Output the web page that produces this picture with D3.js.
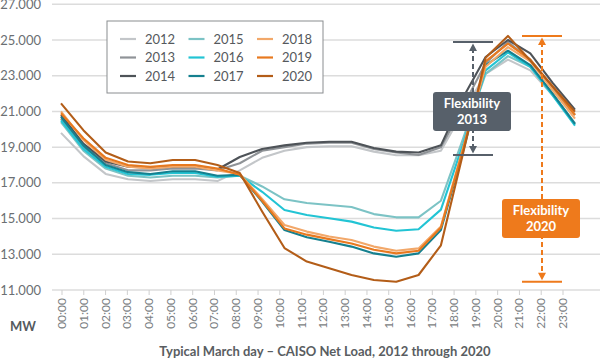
<!DOCTYPE html>
<html lang="en">
<head>
  <meta charset="UTF-8">
  <title>Typical March day - CAISO Net Load</title>
  <script src="https://d3js.org/d3.v7.min.js"></script>
  <style>
    body { margin: 0; padding: 0; background: #fff; }
    svg { font-family: Lato, "Open Sans", sans-serif; display: block; }
    .tick-label { font-size: 13px; fill: #6b6f73; }
    .hour-label { font-size: 12px; fill: #7a7e82; }
    .legend-text { font-size: 13px; fill: #55595d; }
    .box-text { font-size: 13px; font-weight: bold; fill: #fff; text-anchor: middle; }
  </style>
</head>
<body>
  <div id="chart"></div>
  <script>
    const hours = ["00:00","01:00","02:00","03:00","04:00","05:00","06:00","07:00","08:00","09:00","10:00","11:00",
                   "12:00","13:00","14:00","15:00","16:00","17:00","18:00","19:00","20:00","21:00","22:00","23:00"];
    const yTicks = [11000, 13000, 15000, 17000, 19000, 21000, 23000, 25000, 27000];
    const years = ["2012","2013","2014","2015","2016","2017","2018","2019","2020"];
    const colors = ["#c3c6c9","#8f9397","#4e5358","#7cc3c5","#22c4d4","#15808f","#f2a86a","#e8791f","#b35d18"];

    const load2012 = [19800,18500,17500,17200,17100,17200,17200,17100,17700,18400,18800,19000,19050,19050,18750,18550,18550,18800,21000,23100,23900,23300,21900,20350];
    const load2013 = [20600,19000,18100,17700,17700,17800,17800,17700,18100,18800,19000,19200,19250,19250,18900,18700,18560,19000,21300,23700,24890,23900,22300,20800];
    const load2014 = [20800,19200,18200,17900,17850,17900,17900,17750,18450,18900,19100,19250,19300,19300,18950,18750,18700,19100,21800,24050,25000,24250,22600,21100];
    const load2015 = [20400,18800,17800,17400,17300,17400,17400,17300,17400,16800,16080,15870,15760,15650,15250,15070,15070,16000,19500,23100,24100,23500,22000,20300];
    const load2016 = [20500,18900,17900,17500,17450,17550,17550,17350,17400,16500,15480,15200,15020,14830,14500,14320,14400,15500,19200,23300,24300,23500,21900,20200];
    const load2017 = [20700,19100,18000,17600,17500,17650,17650,17400,17450,15950,14360,13950,13700,13430,13050,12860,13050,14360,18800,23600,24400,23600,22000,20300];
    const load2018 = [21000,19400,18300,17900,17800,17900,17900,17700,17500,16100,14640,14270,14000,13800,13430,13200,13330,14550,19000,23500,24600,23800,22200,20600];
    const load2019 = [20900,19500,18400,18000,17900,18000,18000,17800,17450,16000,14450,14100,13850,13600,13250,13050,13200,14500,18900,23800,24800,23900,22400,20800];
    const load2020 = [21450,19950,18700,18200,18100,18280,18280,18000,17550,15400,13350,12590,12215,11840,11560,11465,11840,13500,18700,24000,25230,23850,22400,20990];
    const loads = [load2012, load2013, load2014, load2015, load2016, load2017, load2018, load2019, load2020];

    const width = 600, height = 362;
    const svg = d3.select("#chart").append("svg")
      .attr("width", width).attr("height", height);

    const y = d3.scaleLinear().domain([11000, 27000]).range([290, 4.3]);
    // the curves sit on a slightly wider grid than the hour labels in the original
    const xLine = d3.scalePoint().domain(hours).range([61, 575]);
    const xAxis = d3.scalePoint().domain(hours).range([62, 563]);

    // gridlines
    svg.append("g").selectAll("line")
      .data(yTicks)
      .join("line")
      .attr("x1", 52).attr("x2", width)
      .attr("y1", d => y(d)).attr("y2", d => y(d))
      .attr("stroke", "#dcdcdc").attr("stroke-width", 1.5);

    svg.append("g").selectAll("text")
      .data(yTicks)
      .join("text")
      .attr("class", "tick-label")
      .attr("x", 41).attr("y", d => y(d) + 4.5)
      .attr("text-anchor", "end")
      .text(d => d3.format(",")(d).replace(",", "."));

    // x ticks and labels
    const xg = svg.append("g");
    xg.selectAll("line")
      .data(hours)
      .join("line")
      .attr("x1", d => xAxis(d)).attr("x2", d => xAxis(d))
      .attr("y1", 290).attr("y2", 295)
      .attr("stroke", "#cfcfcf").attr("stroke-width", 1);
    xg.selectAll("text")
      .data(hours)
      .join("text")
      .attr("class", "hour-label")
      .attr("transform", d => `translate(${xAxis(d) + 4},${298}) rotate(-90)`)
      .attr("text-anchor", "end")
      .text(d => d);

    svg.append("text")
      .attr("x", 10).attr("y", 331)
      .attr("font-size", 13).attr("font-weight", "bold").attr("fill", "#555a5e")
      .text("MW");

    svg.append("text")
      .attr("x", 325).attr("y", 356)
      .attr("text-anchor", "middle")
      .attr("font-size", 13).attr("font-weight", "bold").attr("fill", "#595d61")
      .text("Typical March day \u2013 CAISO Net Load, 2012 through 2020");

    // lines
    const line = d3.line()
      .x((d, i) => xLine(hours[i]))
      .y(d => y(d));

    svg.append("g").selectAll("path")
      .data(loads)
      .join("path")
      .attr("d", d => line(d))
      .attr("fill", "none")
      .attr("stroke", (d, i) => colors[i])
      .attr("stroke-width", 2.1)
      .attr("stroke-linejoin", "round");

    // legend
    const legend = svg.append("g");
    legend.append("rect")
      .attr("x", 107).attr("y", 21).attr("width", 216).attr("height", 72)
      .attr("fill", "#fff").attr("stroke", "#8a8d90").attr("stroke-width", 1);
    const items = legend.selectAll("g")
      .data(years)
      .join("g")
      .attr("transform", (d, i) => `translate(${120 + Math.floor(i / 3) * 68.5},${39 + (i % 3) * 18.5})`);
    items.append("line")
      .attr("x1", 0).attr("x2", 16)
      .attr("stroke", (d, i) => colors[i]).attr("stroke-width", 2.2);
    items.append("text")
      .attr("class", "legend-text")
      .attr("x", 25).attr("y", 4.5)
      .text(d => d);

    // flexibility annotations: evening peak vs. midday low
    function flex(data, x0, x1, color, box, label) {
      const top = y(d3.max(data)), bot = y(d3.min(data.slice(9, 18)));
      const cx = (x0 + x1) / 2;
      const g = svg.append("g");
      g.append("line").attr("x1", x0).attr("x2", x1).attr("y1", top).attr("y2", top)
        .attr("stroke", color).attr("stroke-width", 2);
      g.append("line").attr("x1", x0).attr("x2", x1).attr("y1", bot).attr("y2", bot)
        .attr("stroke", color).attr("stroke-width", 2);
      g.append("line").attr("x1", cx).attr("x2", cx).attr("y1", top + 6).attr("y2", bot - 6)
        .attr("stroke", color).attr("stroke-width", 2).attr("stroke-dasharray", "5,3");
      g.append("path").attr("d", `M${cx - 4},${top + 9}L${cx},${top + 1.5}L${cx + 4},${top + 9}Z`).attr("fill", color);
      g.append("path").attr("d", `M${cx - 4},${bot - 9}L${cx},${bot - 1.5}L${cx + 4},${bot - 9}Z`).attr("fill", color);
      g.append("rect").attr("x", box[0]).attr("y", box[1]).attr("width", box[2]).attr("height", box[3])
        .attr("rx", 3).attr("fill", color);
      g.append("text").attr("class", "box-text").attr("x", box[0] + box[2] / 2).attr("y", box[1] + 16).text("Flexibility");
      g.append("text").attr("class", "box-text").attr("x", box[0] + box[2] / 2).attr("y", box[1] + 32).text(label);
    }
    flex(load2013, 453, 493, "#57606a", [433, 92, 78, 39], "2013");
    flex(load2020, 522, 562, "#ee7a1c", [502, 199, 78, 39], "2020");
  </script>
</body>
</html>
